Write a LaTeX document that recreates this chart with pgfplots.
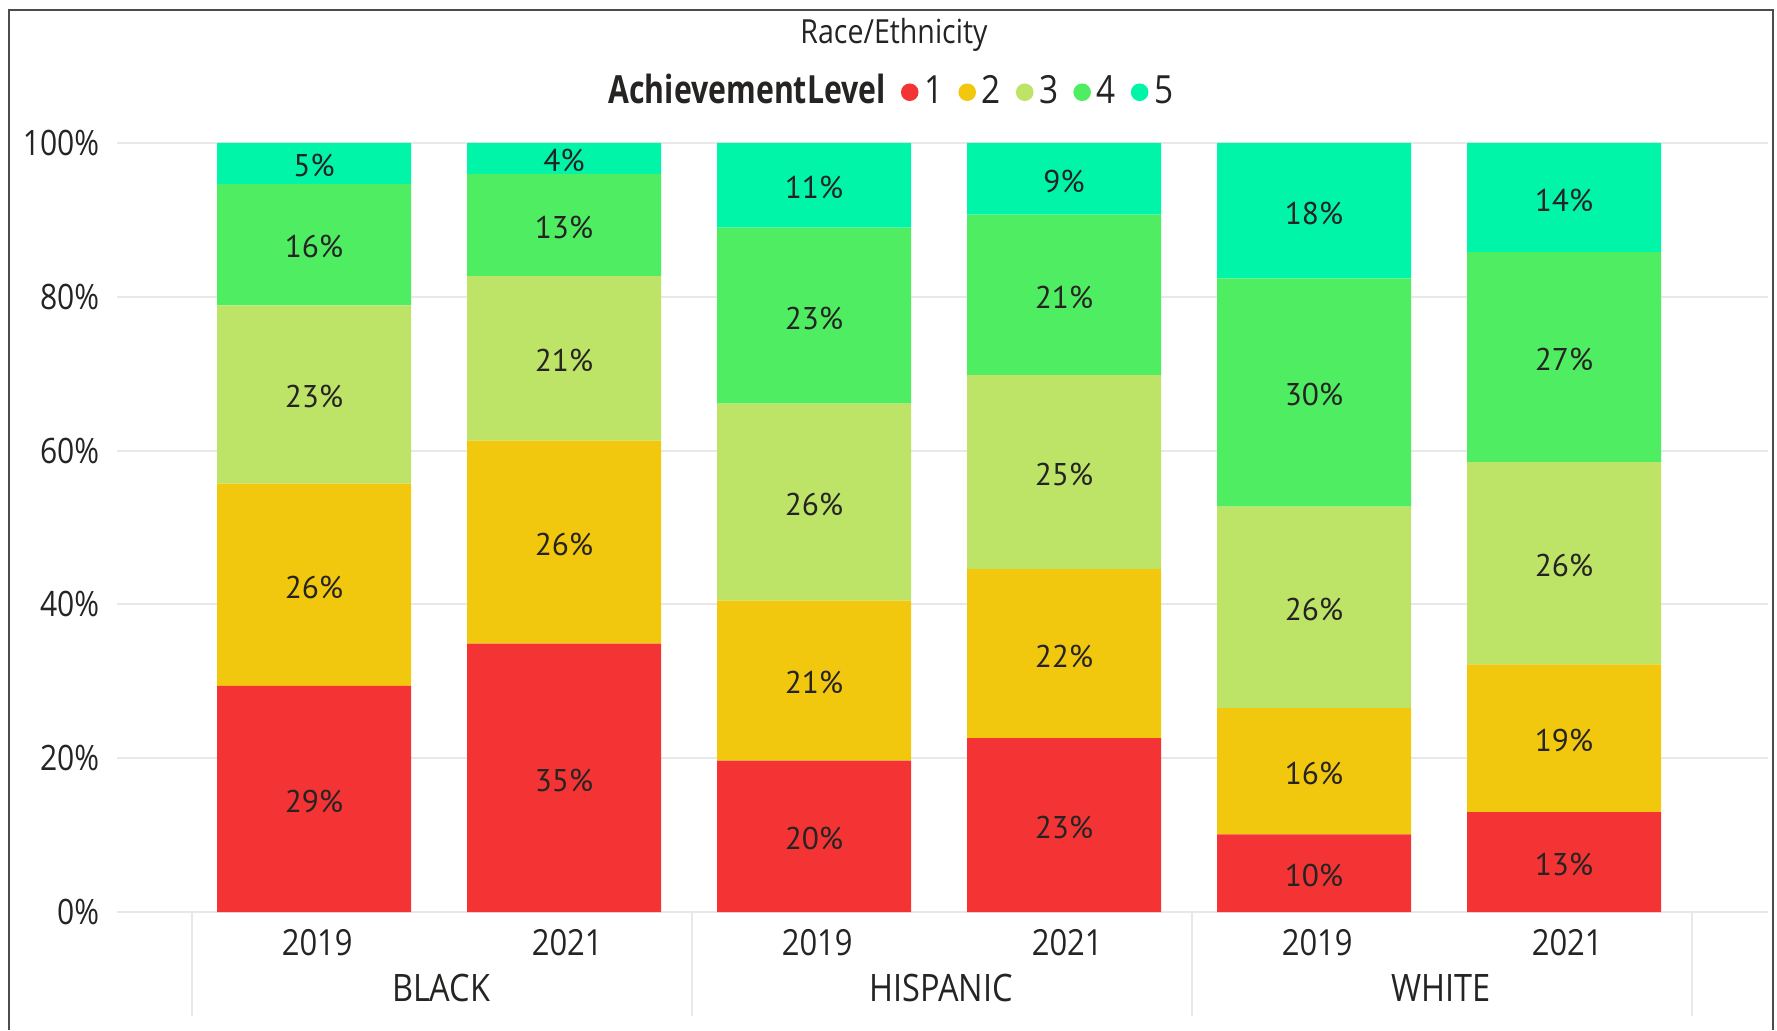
\documentclass[border=0pt]{standalone}
\usepackage{pgfplots}
\pgfplotsset{compat=1.18}
\usepackage{fontspec}
\setmainfont{Open Sans}[FakeStretch=0.86]
\newfontfamily\legtitle{Open Sans}[FakeStretch=0.78]
\newfontfamily\lblfont{PT Sans}

\definecolor{lv1}{HTML}{F43434}
\definecolor{lv2}{HTML}{F2C80F}
\definecolor{lv3}{HTML}{BDE367}
\definecolor{lv4}{HTML}{4FEE62}
\definecolor{lv5}{HTML}{00F5A8}
\definecolor{txt}{HTML}{252423}

\pgfplotsset{
  dotleg/.style={legend image code/.code={\fill[#1] (0pt,0pt) circle (2.2pt);}},
}

\begin{document}
\begin{tikzpicture}
\path[use as bounding box] (0,0) rectangle (444.25pt,257.5pt);
\draw[line width=0.6pt, black!70] (2.25pt,0) -- (2.25pt,255pt) -- (443.25pt,255pt) -- (443.25pt,0);

\begin{axis}[
    at={(29.25pt,29.5pt)}, anchor=south west,
    scale only axis,
    width=412.75pt, height=192.25pt,
    ybar stacked,
    bar width=48.5pt,
    xmin=-0.788, xmax=5.816,
    ymin=0, ymax=100,
    enlargelimits=false,
    clip=false,
    axis line style={draw=none},
    tick style={draw=none},
    major tick length=0pt,
    ymajorgrids=true,
    grid style={black!9, line width=0.5pt},
    /pgf/number format/assume math mode=true,
    ytick={0,20,...,100},
    yticklabel={\pgfmathprintnumber{\tick}\%},
    xtick={0,...,5},
    xticklabels={2019,2021,2019,2021,2019,2021},
    x tick label style={anchor=north, inner sep=0pt, yshift=-4.1pt, xshift=0.8pt, text=txt, font=\fontsize{9}{10}\selectfont},
    y tick label style={anchor=east, inner sep=0pt, xshift=-4.25pt, text=txt, font=\fontsize{8.75}{10}\selectfont},
    nodes near coords={\pgfmathprintnumber[fixed,precision=0]{\pgfplotspointmeta}\%},
    nodes near coords style={anchor=center, yshift=-0.6pt, text=txt, font=\lblfont\fontsize{7.85}{9}\selectfont},
    legend columns=-1,
    legend style={at={(axis description cs:0.467,1.066)}, anchor=center,
        draw=none, fill=none, text=txt,
        font=\fontsize{9.7}{11}\selectfont,
        nodes={inner sep=0pt},
        /tikz/every odd column/.append style={column sep=1.4pt},
        /tikz/every even column/.append style={column sep=3.8pt}},
]
\addlegendimage{empty legend}
\addlegendentry{\legtitle\bfseries AchievementLevel}

\addplot[fill=lv1, draw=none, dotleg=lv1] coordinates {
  (0,29.4) (1,34.9) (2,19.7) (3,22.6) (4,10.1) (5,13.0)
};
\addlegendentry{1}
\addplot[fill=lv2, draw=none, dotleg=lv2] coordinates {
  (0,26.3) (1,26.4) (2,20.8) (3,22.0) (4,16.4) (5,19.2)
};
\addlegendentry{2}
\addplot[fill=lv3, draw=none, dotleg=lv3] coordinates {
  (0,23.2) (1,21.4) (2,25.6) (3,25.2) (4,26.2) (5,26.3)
};
\addlegendentry{3}
\addplot[fill=lv4, draw=none, dotleg=lv4] coordinates {
  (0,15.8) (1,13.3) (2,22.9) (3,20.9) (4,29.7) (5,27.3)
};
\addlegendentry{4}
\addplot[fill=lv5, draw=none, dotleg=lv5] coordinates {
  (0,5.3) (1,4.0) (2,11.0) (3,9.3) (4,17.6) (5,14.2)
};
\addlegendentry{5}

% group separators and labels under the years
\draw[black!9, line width=0.5pt] (axis cs:-0.49,0) -- ++(0pt,-26pt);
\draw[black!9, line width=0.5pt] (axis cs:1.51,0) -- ++(0pt,-26pt);
\draw[black!9, line width=0.5pt] (axis cs:3.51,0) -- ++(0pt,-26pt);
\draw[black!9, line width=0.5pt] (axis cs:5.51,0) -- ++(0pt,-26pt);
\node[yshift=-19pt, xshift=0.55pt, text=txt, font=\fontsize{9.45}{11}\selectfont] at (axis cs:0.5,0) {BLACK};
\node[yshift=-19pt, xshift=0.55pt, text=txt, font=\fontsize{9.45}{11}\selectfont] at (axis cs:2.5,0) {HISPANIC};
\node[yshift=-19pt, xshift=0.55pt, text=txt, font=\fontsize{9.45}{11}\selectfont] at (axis cs:4.5,0) {WHITE};

\node[text=txt, font=\fontsize{8.3}{10}\selectfont] at (axis description cs:0.4706,1.1404) {Race/Ethnicity};
\end{axis}
\end{tikzpicture}
\end{document}
